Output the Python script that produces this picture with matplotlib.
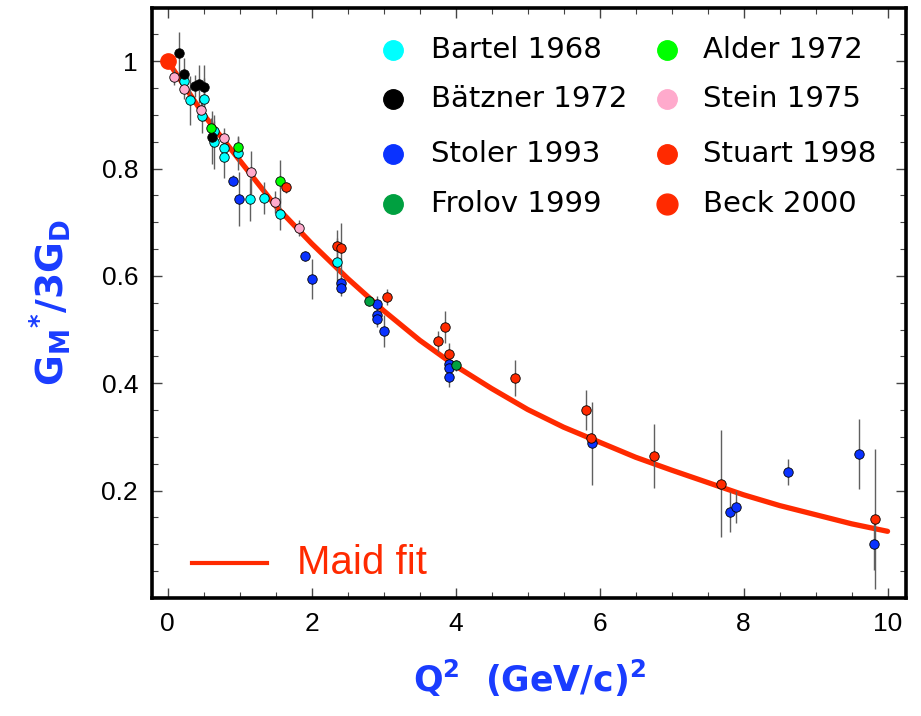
import matplotlib
matplotlib.use("Agg")
import matplotlib.pyplot as plt
from matplotlib.ticker import MultipleLocator

# ====== DATA ======
# each set: Q^2 values, G_M*/3G_D values, error half-lengths
bartel_q = [0.22, 0.31, 0.50, 0.48, 0.64, 0.64, 0.78, 0.78, 0.98, 1.14, 1.34, 1.56, 2.35]
bartel_g = [0.964, 0.927, 0.929, 0.897, 0.869, 0.849, 0.839, 0.822, 0.828, 0.743, 0.745, 0.716, 0.626]
bartel_e = [0.02, 0.045, 0.04, 0.03, 0.02, 0.05, 0.02, 0.04, 0.03, 0.04, 0.03, 0.03, 0.045]

batzner_q = [0.16, 0.22, 0.38, 0.43, 0.50, 0.62]
batzner_g = [1.015, 0.976, 0.954, 0.958, 0.952, 0.858]
batzner_e = [0.04, 0.03, 0.02, 0.035, 0.04, 0.05]

stoler_q = [0.90, 0.99, 1.91, 2.01, 2.40, 2.41, 2.90, 2.90, 2.90, 3.00, 3.90, 3.90, 3.90,
            5.90, 7.81, 7.90, 8.61, 9.60, 9.81]
stoler_g = [0.777, 0.743, 0.637, 0.594, 0.586, 0.578, 0.547, 0.527, 0.519, 0.497, 0.435, 0.429, 0.412,
            0.288, 0.160, 0.169, 0.234, 0.268, 0.101]
stoler_e = [0.01, 0.05, 0.01, 0.037, 0.015, 0.015, 0.015, 0.015, 0.015, 0.03, 0.02, 0.02, 0.02,
            0.077, 0.038, 0.03, 0.024, 0.065, 0.05]

frolov_q = [2.80, 4.01]
frolov_g = [0.554, 0.433]
frolov_e = [0.01, 0.01]

alder_q = [0.60, 0.98, 1.56]
alder_g = [0.875, 0.840, 0.776]
alder_e = [0.02, 0.02, 0.04]

stein_q = [0.09, 0.23, 0.46, 0.78, 1.16, 1.49, 1.82]
stein_g = [0.970, 0.949, 0.909, 0.856, 0.793, 0.738, 0.689]
stein_e = [0.015, 0.02, 0.02, 0.02, 0.04, 0.02, 0.015]

stuart_q = [1.64, 2.35, 2.41, 3.05, 3.76, 3.85, 3.90, 4.82, 5.81, 5.875, 6.75, 7.69, 9.82]
stuart_g = [0.765, 0.655, 0.651, 0.561, 0.478, 0.504, 0.455, 0.410, 0.350, 0.297, 0.264, 0.213, 0.147]
stuart_e = [0.01, 0.03, 0.047, 0.015, 0.02, 0.03, 0.02, 0.034, 0.038, 0.01, 0.06, 0.10, 0.13]

beck_q = [0.0]
beck_g = [1.0]

# Maid fit curve, read at steps of 0.5
maid_q = [0.0, 0.5, 1.0, 1.5, 2.0, 2.5, 3.0, 3.5, 4.0, 4.5, 5.0,
          5.5, 6.0, 6.5, 7.0, 7.5, 8.0, 8.5, 9.0, 9.5, 10.0]
maid_g = [1.0, 0.90, 0.815, 0.73, 0.66, 0.595, 0.535, 0.48, 0.432, 0.39, 0.351,
          0.318, 0.290, 0.262, 0.238, 0.215, 0.192, 0.172, 0.155, 0.138, 0.124]

x_ticks = [0, 2, 4, 6, 8, 10]
y_ticks = [0.2, 0.4, 0.6, 0.8, 1.0]
y_tick_labels = ["0.2", "0.4", "0.6", "0.8", "1"]

# ====== STYLE ======
RED = "#ff2a00"
BLUE_TXT = "#1a3cff"
sets = [
    ("Bartel 1968", bartel_q, bartel_g, bartel_e, "#00ffff"),
    ("Bätzner 1972", batzner_q, batzner_g, batzner_e, "#000000"),
    ("Stoler 1993", stoler_q, stoler_g, stoler_e, "#0a32ff"),
    ("Frolov 1999", frolov_q, frolov_g, frolov_e, "#00a040"),
    ("Alder 1972", alder_q, alder_g, alder_e, "#00ff00"),
    ("Stein 1975", stein_q, stein_g, stein_e, "#ffaacc"),
    ("Stuart 1998", stuart_q, stuart_g, stuart_e, RED),
]

fig = plt.figure(figsize=(9.21, 7.16), dpi=100)
ax = fig.add_axes([0.165, 0.165, 0.819, 0.8245])

# fit curve
ax.plot(maid_q, maid_g, color=RED, lw=3.8, zorder=2, solid_capstyle="round")

# data points with grey error bars
for name, q, g, e, col in sets:
    ax.errorbar(q, g, yerr=e, fmt="none", ecolor="#606060", elinewidth=1.0, zorder=3)
    ax.plot(q, g, "o", ms=6.8, mfc=col, mec="black", mew=0.6, zorder=4)
ax.plot(beck_q, beck_g, "o", ms=11, mfc=RED, mec=RED, zorder=5)

ax.set_xlim(-0.22, 10.26)
ax.set_ylim(0.0, 1.10)
ax.set_xticks(x_ticks)
ax.set_yticks(y_ticks)
ax.set_yticklabels(y_tick_labels)
ax.xaxis.set_minor_locator(MultipleLocator(0.5))
ax.yaxis.set_minor_locator(MultipleLocator(0.05))
ax.tick_params(which="both", direction="in", top=True, right=True, color="#444444")
ax.tick_params(which="major", length=7, width=1)
ax.tick_params(which="minor", length=4, width=0.8)
ax.tick_params(axis="both", labelsize=19, pad=10)
for lbl in ax.get_xticklabels() + ax.get_yticklabels():
    lbl.set_family("Liberation Sans")
for sp in ax.spines.values():
    sp.set_linewidth(2.6)

ax.set_xlabel(r"Q$^\mathbf{2}$  (GeV/c)$^\mathbf{2}$", fontsize=25, color=BLUE_TXT,
              fontweight="bold", labelpad=16)
ax.set_ylabel(r"G$_\mathbf{M}$$^\mathbf{*}$/3G$_\mathbf{D}$", fontsize=27, color=BLUE_TXT,
              fontweight="bold", labelpad=20)

# ---------- legend drawn by hand ----------
rows_y = [50, 99, 154, 204]
col_mark_x = [393, 667]
col_text_x = [431, 703]
order = sets + [("Beck 2000", beck_q, beck_g, None, RED)]
for i, item in enumerate(order):
    name, col = item[0], item[4]
    c, r = divmod(i, 4)
    yf = 1 - rows_y[r] / 716
    ms = 14 if name != "Beck 2000" else 15
    fig.lines.append(plt.Line2D([col_mark_x[c] / 921], [yf], marker="o", ms=ms,
                                mfc=col, mec=col, transform=fig.transFigure))
    fig.text(col_text_x[c] / 921, yf, name, fontsize=21, va="center", ha="left")

# Maid fit legend
ym = 1 - 563 / 716
fig.lines.append(plt.Line2D([192 / 921, 267 / 921], [ym, ym], color=RED, lw=3,
                            transform=fig.transFigure))
fig.text(297 / 921, ym, "Maid fit", fontsize=29, color=RED, va="center", ha="left",
         family="Liberation Sans")

fig.savefig("out.png", dpi=100)
